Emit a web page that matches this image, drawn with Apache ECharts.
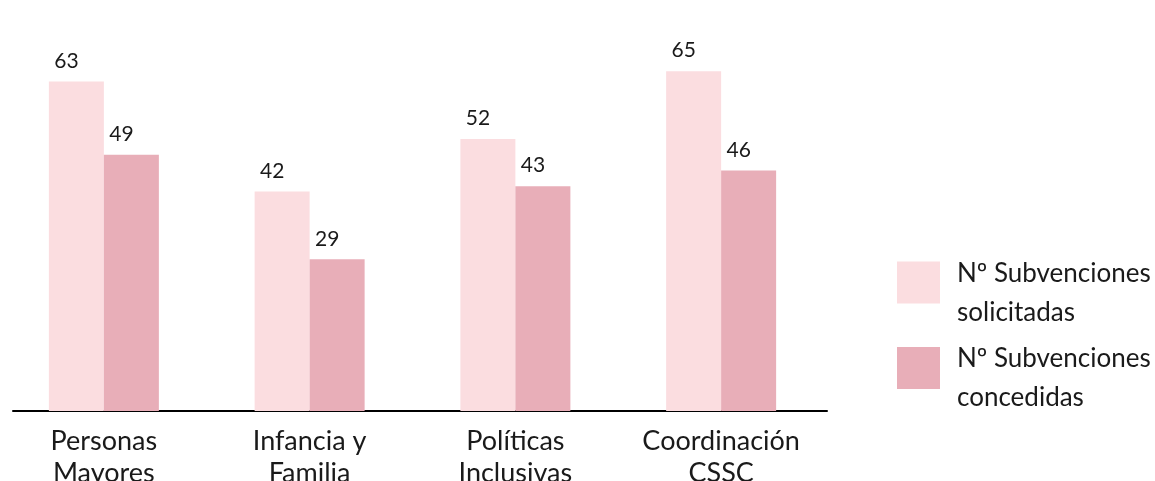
<!DOCTYPE html>
<html>
<head>
<meta charset="utf-8">
<style>
html,body{margin:0;padding:0;background:#fff;}
#chart{width:1155px;height:481px;}
</style>
<script src="https://cdn.jsdelivr.net/npm/echarts@6/dist/echarts.min.js"></script>
</head>
<body>
<div id="chart"></div>
<script>
const categories = ['Personas\nMayores', 'Infancia y\nFamilia', 'Políticas\nInclusivas', 'Coordinación\nCSSC'];
const seriesNames = ['Nº Subvenciones solicitadas', 'Nº Subvenciones concedidas'];
const solicitadas = [63, 42, 52, 65];
const concedidas = [49, 29, 43, 46];

const FONT = 'Lato';
const TXT = '#1a1a1a';
const chart = echarts.init(document.getElementById('chart'));
const valueLabel = {
  show: true, position: 'top', distance: 10, offset: [-10, 0],
  fontFamily: FONT, fontSize: 21, color: TXT
};
chart.setOption({
  animation: false,
  grid: [
    {left: 1, width: 823, top: 45, bottom: 70, outerBoundsMode: 'none', containLabel: false},
    {left: 13, right: 328, top: 45, bottom: 70, outerBoundsMode: 'none', containLabel: false}
  ],
  legend: {
    orient: 'vertical', left: 897, top: 243, padding: 0,
    itemWidth: 43, itemHeight: 42, itemGap: 3,
    icon: 'rect',
    formatter: function (n) {
      const parts = n.split('Subvenciones ');
      return '{s| }\n{t|' + parts[0] + 'Subvenciones}\n{t|' + parts[1] + '}';
    },
    textStyle: {
      fontFamily: FONT, fontSize: 26, color: TXT, padding: [0, 0, 0, 12],
      rich: {
        s: {fontSize: 1, lineHeight: 21},
        t: {fontFamily: FONT, fontSize: 26, color: TXT, lineHeight: 39}
      }
    },
    data: seriesNames
  },
  xAxis: [
    {
      type: 'category', gridIndex: 0, data: categories,
      axisLine: {show: false}, axisTick: {show: false},
      axisLabel: {fontFamily: FONT, fontSize: 27, color: TXT, lineHeight: 32, margin: 14, interval: 0}
    },
    {
      type: 'value', gridIndex: 1, min: 0, max: 1,
      axisLine: {show: true, lineStyle: {color: '#000', width: 2}},
      axisTick: {show: false}, axisLabel: {show: false}, splitLine: {show: false}
    }
  ],
  yAxis: [
    {type: 'value', gridIndex: 0, min: 0, max: 70, show: false},
    {type: 'value', gridIndex: 1, min: 0, max: 1, show: false}
  ],
  series: [
    {name: seriesNames[0], type: 'bar', data: solicitadas, barWidth: 55, barGap: '0%',
     itemStyle: {color: '#FBDDE0'}, label: valueLabel},
    {name: seriesNames[1], type: 'bar', data: concedidas, barWidth: 55, barGap: '0%',
     itemStyle: {color: '#E8AEB8'}, label: valueLabel}
  ]
});
</script>
</body>
</html>
